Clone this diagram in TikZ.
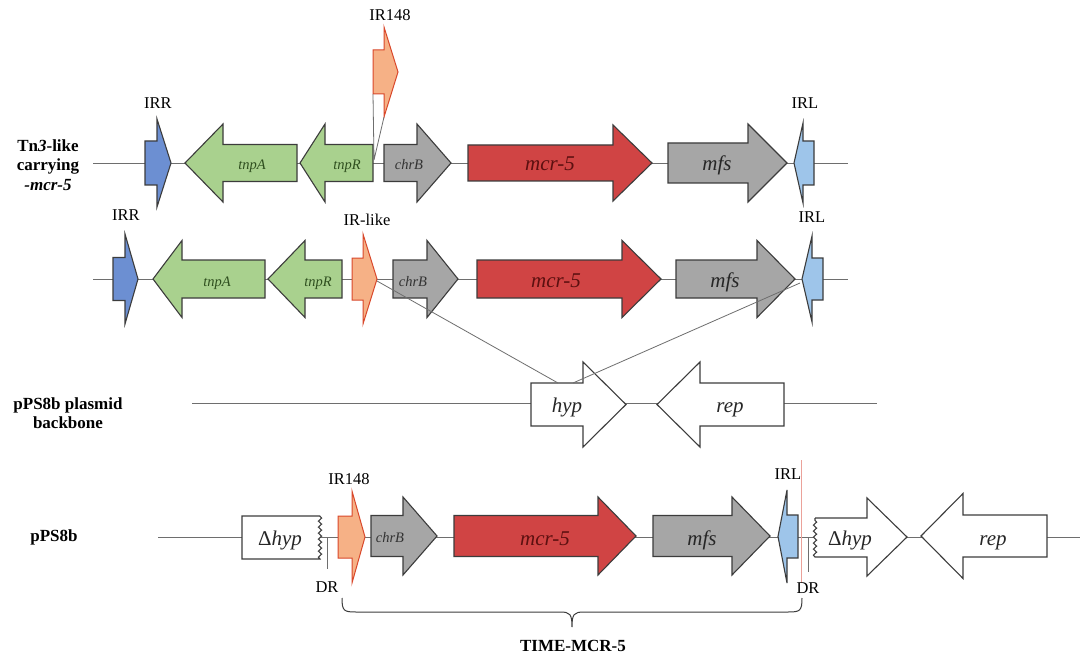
\documentclass[tikz,border=0pt]{standalone}
\usepackage{fontspec}
\setmainfont{Liberation Serif}
\usetikzlibrary{decorations.pathmorphing}
\definecolor{bbline}{HTML}{6E6E6E}
\definecolor{edge}{HTML}{3C3C3C}
\definecolor{irblue}{HTML}{6C8FD2}
\definecolor{irlblue}{HTML}{9EC5EA}
\definecolor{grn}{HTML}{A9D18E}
\definecolor{grntxt}{HTML}{2F4F1F}
\definecolor{gry}{HTML}{A6A6A6}
\definecolor{red5}{HTML}{D04444}
\definecolor{redtxt}{HTML}{5C1010}
\definecolor{org}{HTML}{F6B186}
\definecolor{orgedge}{HTML}{D9482B}
\definecolor{pinkline}{HTML}{EBA29A}
\newcommand\gn[7]{\draw[#1] (#2,#5-#6) -- (#3,#5-#6) -- (#3,#5-#7) -- (#4,#5) -- (#3,#5+#7) -- (#3,#5+#6) -- (#2,#5+#6) -- cycle;}
\tikzset{
 backbone/.style={draw=bbline, line width=0.9pt},
 genebox/.style={draw=edge, line width=1.1pt, line join=miter},
 irr/.style={genebox, fill=irblue},
 irl/.style={genebox, fill=irlblue},
 green gene/.style={genebox, fill=grn},
 gray gene/.style={genebox, fill=gry},
 red gene/.style={genebox, fill=red5},
 white gene/.style={genebox, fill=white},
 orange ir/.style={draw=orgedge, line width=1pt, fill=org},
 lbl/.style={font=\fontsize{16.5}{18}\selectfont, inner sep=0pt},
 sidelbl/.style={font=\fontsize{17}{19.5}\selectfont\bfseries, align=center, inner sep=0pt},
 gtxt/.style={font=\fontsize{21}{24}\selectfont\itshape, inner sep=0pt, anchor=base},
 stxt/.style={font=\fontsize{14.5}{16}\selectfont\itshape, inner sep=0pt, anchor=base},
 thinline/.style={draw=bbline, line width=0.8pt},
 wavy/.style={decoration={snake, amplitude=1.6pt, segment length=6pt}},
}
\begin{document}
\begin{tikzpicture}[x=1pt, y=-1pt]
\useasboundingbox (0,0) rectangle (1090,658);
\fill[white] (0,0) rectangle (1090,658);

% ---------------- Row 1 ----------------
\node[sidelbl] (lab1) at (48,165) {Tn\textit{3}-like\\carrying\\\textit{-mcr-5}};
\coordinate (r1a) at (93,163); \coordinate (r1b) at (848,163);
\draw[backbone] (r1a) -- (r1b);
\gn{irr}{145}{157}{171}{163}{22}{44}
\gn{green gene}{297}{223}{185}{163}{18.5}{39}
\gn{green gene}{373}{325}{300}{163}{18.5}{39}
\gn{gray gene}{384}{417}{451}{163}{18.5}{39}
\gn{red gene}{468}{613}{652}{163}{18}{38}
\gn{gray gene}{668}{748}{787}{163}{20}{39}
\gn{irl}{814}{803}{794}{163}{22}{40}
\gn{orange ir}{373}{384}{398}{72}{22}{45}
\coordinate (ir148a) at (373,94);
\coordinate (ir148b) at (384,117);
\coordinate (ins1) at (374,160);
\draw[thinline] (ir148a) -- (ins1) (ir148b) -- (ins1);
\node[lbl] (irr1) at (158,103) {IRR};
\node[lbl] (ir148t) at (390,15) {IR148};
\node[lbl] (irl1) at (805,103) {IRL};
\node[stxt, text=grntxt] (tnpA1) at (252,170) {tnpA};
\node[stxt, text=grntxt] (tnpR1) at (347,170) {tnpR};
\node[stxt, text=black!80] (chrB1) at (409,170) {chrB};
\node[gtxt, text=redtxt] (mcr1) at (550,171) {mcr-5};
\node[gtxt, text=black!85] (mfs1) at (717,171) {mfs};

% ---------------- Row 2 ----------------
\coordinate (r2a) at (93,279); \coordinate (r2b) at (848,279);
\draw[backbone] (r2a) -- (r2b);
\gn{irr}{113}{125}{138}{279}{21.5}{45}
\gn{green gene}{265}{182}{153}{279}{19}{38.5}
\gn{green gene}{342}{305}{268}{279}{19}{38.5}
\gn{orange ir}{352}{363}{377}{279}{21}{45}
\gn{gray gene}{393}{427}{458}{279}{19}{38.5}
\gn{red gene}{477}{622}{661}{279}{19}{38.5}
\gn{gray gene}{676}{757}{795}{279}{19}{38.5}
\gn{irl}{823}{812}{802}{279}{21}{43}
\node[lbl] (irr2) at (126,215) {IRR};
\node[lbl] (irlike) at (367,220) {IR-like};
\node[lbl] (irl2) at (812,217) {IRL};
\node[stxt, text=grntxt] (tnpA2) at (217,286) {tnpA};
\node[stxt, text=grntxt] (tnpR2) at (318,286) {tnpR};
\node[stxt, text=black!80] (chrB2) at (413,286) {chrB};
\node[gtxt, text=redtxt] (mcr2) at (556,287) {mcr-5};
\node[gtxt, text=black!85] (mfs2) at (725,287) {mfs};

% ---------------- Row 3 ----------------
\node[sidelbl] (lab3) at (68,413) {pPS8b plasmid\\backbone};
\coordinate (r3a) at (192,403); \coordinate (r3b) at (877,403);
\draw[backbone] (r3a) -- (r3b);
\gn{white gene}{531}{583}{626}{404.5}{21.5}{42.5}
\gn{white gene}{784}{700}{657}{404.5}{21.5}{42.5}
\node[gtxt, text=black!85] (hyp3) at (567,412) {hyp};
\node[gtxt, text=black!85] (rep3) at (730,412) {rep};
\coordinate (xl) at (377,281);
\coordinate (xr) at (800,283);
\coordinate (hl) at (558,383);
\coordinate (hr) at (573,383);
\draw[thinline] (xl) -- (hl);
\draw[thinline] (xr) -- (hr);

% ---------------- Row 4 ----------------
\node[sidelbl] (lab4) at (54,537) {pPS8b};
\coordinate (r4a) at (158,537); \coordinate (r4b) at (1080,537);
\draw[backbone] (r4a) -- (r4b);
\draw[white gene] (320,516) -- (242,516) -- (242,559) -- (320,559) decorate[wavy]{-- (320,516)};
\node[gtxt, text=black!85] (dhyp1) at (280,545) {{\upshape Δ}hyp};
\coordinate (dr1a) at (327,537); \coordinate (dr1b) at (327,569);
\draw[thinline] (dr1a) -- (dr1b);
\gn{orange ir}{338}{352}{365}{537}{21}{46}
\gn{gray gene}{371}{403}{437}{536}{20.5}{39}
\gn{red gene}{454}{598}{636}{536}{20.5}{39}
\gn{gray gene}{653}{732}{770}{536}{20.5}{39}
\coordinate (pk1) at (801,460); \coordinate (pk2) at (801,583);
\draw[pinkline, line width=1pt] (pk1) -- (pk2);
\gn{irl}{798}{787}{778}{536.5}{21.5}{46.5}
\coordinate (dr2a) at (808,537); \coordinate (dr2b) at (808,572);
\draw[thinline] (dr2a) -- (dr2b);
\draw[white gene] (815,518) -- (867,518) -- (867,498) -- (907,537) -- (867,576) -- (867,557) -- (815,557) decorate[wavy]{-- (815,518)};
\gn{white gene}{1047}{963}{921}{536}{21}{42.5}
\node[gtxt, text=black!85] (dhyp2) at (850,545) {{\upshape Δ}hyp};
\node[gtxt, text=black!85] (rep4) at (993,545) {rep};
\node[stxt, text=black!80] (chrB4) at (390,542) {chrB};
\node[gtxt, text=redtxt] (mcr4) at (545,545) {mcr-5};
\node[gtxt, text=black!85] (mfs4) at (702,545) {mfs};
\node[lbl] (ir148b4) at (349,479) {IR148};
\node[lbl] (irl4) at (788,474) {IRL};
\node[lbl] (dr1) at (327,587) {DR};
\node[lbl] (dr2) at (808,588) {DR};

% brace
\coordinate (bl) at (342,598);
\coordinate (bm) at (572,627);
\coordinate (br) at (802,598);
\draw[draw=edge, line width=1pt] (bl) .. controls (342,611) and (344,612) .. (356,612) -- (560,612) .. controls (570,612) and (572,614) .. (bm) .. controls (572,614) and (574,612) .. (584,612) -- (788,612) .. controls (800,612) and (802,611) .. (br);
\node[sidelbl] (time) at (573,646) {TIME-MCR-5};
\end{tikzpicture}
\end{document}
